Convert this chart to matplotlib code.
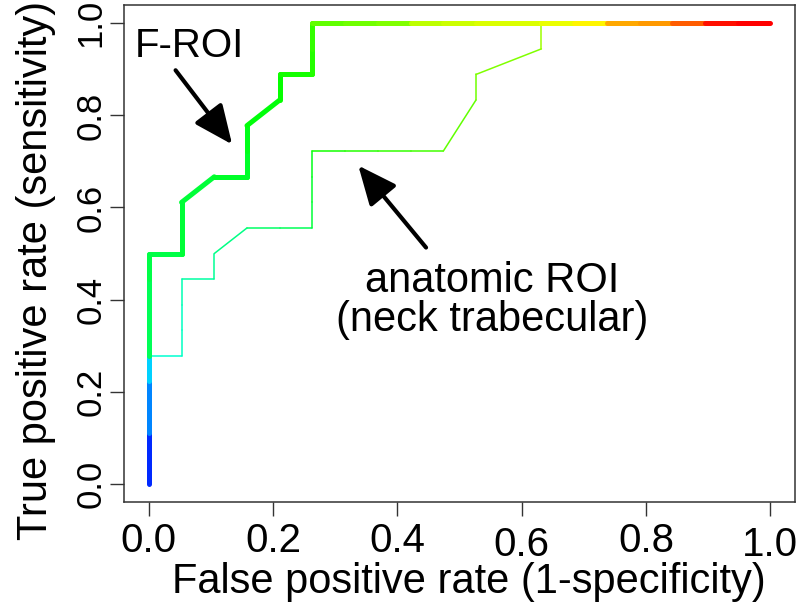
import numpy as np
import matplotlib
matplotlib.use("Agg")
import matplotlib.pyplot as plt
from matplotlib.collections import LineCollection
from matplotlib.colors import hsv_to_rgb
from matplotlib.transforms import ScaledTranslation

plt.rcParams['font.family'] = ['Liberation Sans', 'DejaVu Sans']

# ROC points: 19 negatives, 18 positives
froi_fpr = [0, 0, 0, 0, 0, 0, 0, 0, 0, 0, 1, 1, 1, 2, 3, 3, 3, 4, 4, 5, 5, 5,
            6, 7, 8, 9, 10, 11, 12, 13, 14, 15, 16, 17, 18, 19]
froi_tpr = [0, 1, 2, 3, 4, 5, 6, 7, 8, 9, 9, 10, 11, 12, 12, 13, 14, 15, 16, 16, 17, 18,
            18, 18, 18, 18, 18, 18, 18, 18, 18, 18, 18, 18, 18, 18]
# colour (hue) of the segment ending at each point, ROCR-style colorize
froi_hue = [0.64, 0.64, 0.64, 0.58, 0.58, 0.53, 0.39, 0.39, 0.39, 0.38, 0.38, 0.37, 0.37,
            0.37, 0.36, 0.36, 0.35, 0.34, 0.33, 0.32, 0.31, 0.30,
            0.27, 0.26, 0.25, 0.21, 0.20, 0.19, 0.19, 0.18, 0.16, 0.11, 0.10, 0.06, 0.01, 0.00]

anat_fpr = [0, 0, 0, 0, 0, 0, 1, 1, 1, 1, 2, 2, 3, 4, 5, 5, 5, 5, 6, 7, 8, 9, 10, 10, 12, 12,
            13, 14, 15, 16, 17, 18, 19]
anat_tpr = [0, 1, 2, 3, 4, 5, 5, 6, 7, 8, 8, 9, 10, 10, 10, 11, 12, 13, 13, 13, 13, 13, 15, 16, 17, 18,
            18, 18, 18, 18, 18, 18, 18]
anat_hue = [0.60, 0.58, 0.56, 0.54, 0.52, 0.50, 0.47, 0.46, 0.46, 0.45, 0.44, 0.43, 0.42,
            0.40, 0.39, 0.37, 0.36, 0.35, 0.32, 0.31, 0.30, 0.29, 0.27, 0.26, 0.25,
            0.23, 0.22, 0.21, 0.20, 0.19, 0.18, 0.17, 0.16]

n_neg = 19
n_pos = 18


def roc_lines(fpr, tpr, hue, lw):
    x = np.array(fpr) / n_neg
    y = np.array(tpr) / n_pos
    pts = np.column_stack([x, y]).reshape(-1, 1, 2)
    segs = np.concatenate([pts[:-1], pts[1:]], axis=1)
    cols = [hsv_to_rgb((h, 1.0, 1.0)) for h in hue[1:]]
    return LineCollection(segs, colors=cols, linewidths=lw, capstyle='round', joinstyle='round')


fig = plt.figure(figsize=(8, 6.08), dpi=100)
ax = fig.add_axes([0.155, 0.174, 0.839, 0.818])

ax.add_collection(roc_lines(anat_fpr, anat_tpr, anat_hue, 1.1))
ax.add_collection(roc_lines(froi_fpr, froi_tpr, froi_hue, 3.6))

ax.set_xlim(-0.04, 1.04)
ax.set_ylim(-0.04, 1.04)
ticks = [0.0, 0.2, 0.4, 0.6, 0.8, 1.0]
ax.set_xticks(ticks)
ax.set_yticks(ticks)
ax.set_xticklabels(['%.1f' % t for t in ticks])
ax.set_yticklabels(['%.1f' % t for t in ticks], rotation=90, va='center')
ax.tick_params(length=10, width=1.0, color='#333333')
ax.tick_params(axis='x', labelsize=29, pad=4)
ax.tick_params(axis='y', labelsize=25, pad=2)
for s in ax.spines.values():
    s.set_linewidth(1.1)
    s.set_color('#333333')

# slightly lowered labels as in the original
for lab in [ax.get_xticklabels()[3], ax.get_xticklabels()[5]]:
    lab.set_transform(lab.get_transform() + ScaledTranslation(0, -0.04, fig.dpi_scale_trans))

ax.set_xlabel('False positive rate (1-specificity)', fontsize=30)
ax.set_ylabel('True positive rate (sensitivity)', fontsize=30)
ax.xaxis.set_label_coords(0.514, -0.121)
ax.yaxis.set_label_coords(-0.101, 0.467)

ax.text(-0.022, 0.926, 'F-ROI', fontsize=29, ha='left', va='baseline')
ax.annotate('', xy=(0.134, 0.737), xytext=(0.043, 0.898),
            arrowprops=dict(arrowstyle='-|>,head_length=1.7,head_width=0.75', lw=3, color='black',
                            mutation_scale=14, shrinkA=0, shrinkB=0))
ax.text(0.553, 0.483, 'anatomic ROI\n(neck trabecular)', fontsize=30, ha='center', va='top',
        linespacing=0.96)
ax.annotate('', xy=(0.337, 0.691), xytext=(0.446, 0.513),
            arrowprops=dict(arrowstyle='-|>,head_length=1.7,head_width=0.75', lw=3, color='black',
                            mutation_scale=14, shrinkA=0, shrinkB=0))

fig.savefig('out.png', dpi=100)
